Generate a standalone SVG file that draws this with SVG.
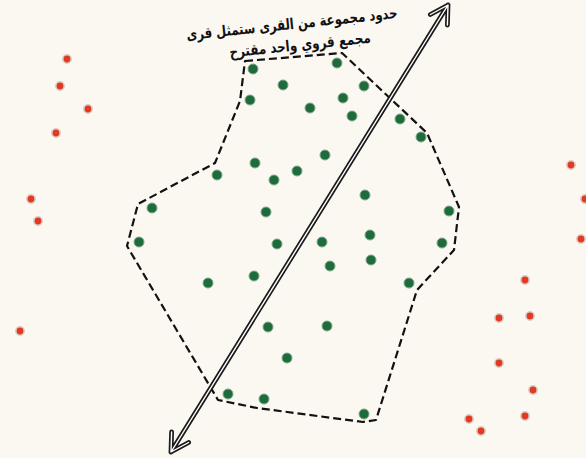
<svg xmlns="http://www.w3.org/2000/svg" width="586" height="458" viewBox="0 0 586 458">
<style>
.g{fill:#1e6b3b;stroke:#7fa98a;stroke-width:1}
.r{fill:#e23a22;stroke:#d9cfc6;stroke-width:1.6}
.bd{fill:none;stroke:#111;stroke-width:2.2;stroke-dasharray:8 4;stroke-linejoin:round}
.ao{fill:none;stroke:#1a1a1a;stroke-width:4.8;stroke-linecap:round;stroke-linejoin:round}
.ai{fill:none;stroke:#fff;stroke-width:1.4;stroke-linecap:round;stroke-linejoin:round}
.t{font-family:"DejaVu Sans",sans-serif;font-weight:bold;font-size:15px;fill:#111}
</style>
<rect width="586" height="458" fill="#fbf8f1"/>
<g id="boundary">
<path class="bd" d="M245,61 L342,53 L427,133 L459,207 L454,250 L417,290 L376,420 L363,422 L257,408 L218,400 L127,246 L138,204 L215,163 L240,101 Z"/>
</g>
<g id="villages-in">
<circle class="g" cx="253" cy="69" r="5"/>
<circle class="g" cx="337" cy="63" r="5"/>
<circle class="g" cx="283" cy="85" r="5"/>
<circle class="g" cx="364" cy="86" r="5"/>
<circle class="g" cx="250" cy="100" r="5"/>
<circle class="g" cx="343" cy="98" r="5"/>
<circle class="g" cx="310" cy="108" r="5"/>
<circle class="g" cx="352" cy="116" r="5"/>
<circle class="g" cx="400" cy="119" r="5"/>
<circle class="g" cx="421" cy="137" r="5"/>
<circle class="g" cx="325" cy="155" r="5"/>
<circle class="g" cx="255" cy="163" r="5"/>
<circle class="g" cx="297" cy="171" r="5"/>
<circle class="g" cx="217" cy="175" r="5"/>
<circle class="g" cx="274" cy="180" r="5"/>
<circle class="g" cx="365" cy="195" r="5"/>
<circle class="g" cx="152" cy="208" r="5"/>
<circle class="g" cx="266" cy="212" r="5"/>
<circle class="g" cx="449" cy="211" r="5"/>
<circle class="g" cx="370" cy="235" r="5"/>
<circle class="g" cx="139" cy="242" r="5"/>
<circle class="g" cx="277" cy="244" r="5"/>
<circle class="g" cx="322" cy="242" r="5"/>
<circle class="g" cx="442" cy="243" r="5"/>
<circle class="g" cx="330" cy="266" r="5"/>
<circle class="g" cx="371" cy="260" r="5"/>
<circle class="g" cx="254" cy="276" r="5"/>
<circle class="g" cx="208" cy="283" r="5"/>
<circle class="g" cx="409" cy="283" r="5"/>
<circle class="g" cx="268" cy="327" r="5"/>
<circle class="g" cx="327" cy="326" r="5"/>
<circle class="g" cx="287" cy="358" r="5"/>
<circle class="g" cx="228" cy="394" r="5"/>
<circle class="g" cx="264" cy="399" r="5"/>
<circle class="g" cx="364" cy="414" r="5"/>
</g>
<g id="villages-out">
<circle class="r" cx="67" cy="59" r="4.2"/>
<circle class="r" cx="60" cy="86" r="4.2"/>
<circle class="r" cx="88" cy="109" r="4.2"/>
<circle class="r" cx="56" cy="133" r="4.2"/>
<circle class="r" cx="31" cy="199" r="4.2"/>
<circle class="r" cx="38" cy="221" r="4.2"/>
<circle class="r" cx="20" cy="331" r="4.2"/>
<circle class="r" cx="571" cy="165" r="4.2"/>
<circle class="r" cx="585" cy="199" r="4.2"/>
<circle class="r" cx="581" cy="239" r="4.2"/>
<circle class="r" cx="525" cy="280" r="4.2"/>
<circle class="r" cx="499" cy="318" r="4.2"/>
<circle class="r" cx="530" cy="316" r="4.2"/>
<circle class="r" cx="499" cy="363" r="4.2"/>
<circle class="r" cx="533" cy="390" r="4.2"/>
<circle class="r" cx="525" cy="416" r="4.2"/>
<circle class="r" cx="469" cy="419" r="4.2"/>
<circle class="r" cx="481" cy="431" r="4.2"/>
</g>
<g id="connectors">
<path class="ao" d="M171,452 L448,5 M430.4,14.5 L448,5 L447.4,25 M188.6,442.5 L171,452 L171.6,432"/>
<path class="ai" d="M171,452 L448,5 M430.4,14.5 L448,5 L447.4,25 M188.6,442.5 L171,452 L171.6,432"/>
</g>
<g id="label">
<text class="t" x="292" y="29" text-anchor="middle" transform="rotate(-6 292 24)" textLength="212" lengthAdjust="spacingAndGlyphs">حدود مجموعة من القرى ستمثل قرى</text>
<text class="t" x="300" y="50" text-anchor="middle" transform="rotate(-6 300 45)" textLength="142" lengthAdjust="spacingAndGlyphs">مجمع قروي واحد مقترح</text>
</g>
</svg>
